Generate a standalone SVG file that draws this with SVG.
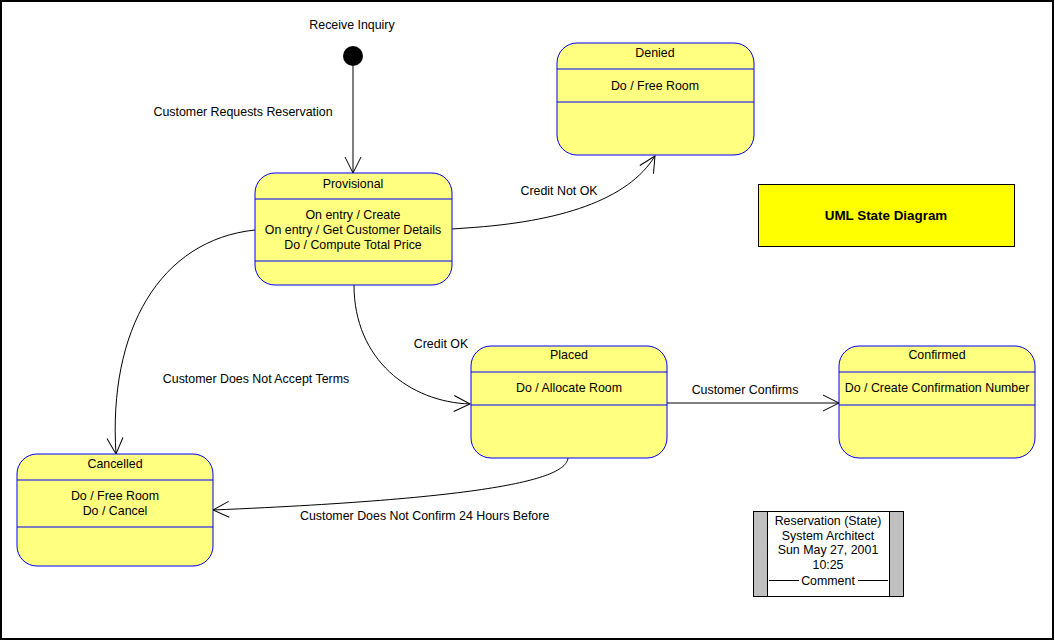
<svg xmlns="http://www.w3.org/2000/svg" width="1054" height="640" viewBox="0 0 1054 640">
<style>
.st{fill:#FFFF80;stroke:#0000FF;stroke-width:1}
.dv{stroke:#0000FF;stroke-width:1}
text{font-family:"Liberation Sans",Arial,sans-serif;font-size:12.4px;fill:#000}
.c{text-anchor:middle}
.ln{fill:none;stroke:#000;stroke-width:1}
</style>
<defs>
<marker id="ah" markerUnits="userSpaceOnUse" markerWidth="18" markerHeight="18" refX="16" refY="8" orient="auto" overflow="visible">
<path d="M0,0 L16,8 L0,16" fill="none" stroke="#000" stroke-width="1"/>
</marker>
</defs>
<rect x="0" y="0" width="1054" height="640" fill="#fff"/>
<rect x="1" y="1" width="1052" height="638" fill="none" stroke="#000" stroke-width="2"/>

<g id="initial">
<circle cx="353" cy="56" r="10" fill="#000"/>
<text class="c" x="352" y="29">Receive Inquiry</text>
</g>

<g id="connectors">
<path class="ln" d="M353,66 L353,173" marker-end="url(#ah)"/>
<text class="c" x="243" y="116">Customer Requests Reservation</text>
<path class="ln" d="M452,229 L466,228 C560,222 628,200 655,156" marker-end="url(#ah)"/>
<text class="c" x="559" y="195">Credit Not OK</text>
<path class="ln" d="M354,285 C354,360 410,402 470,404" marker-end="url(#ah)"/>
<text class="c" x="441" y="348">Credit OK</text>
<path class="ln" d="M255,230 C160,240 108,330 116,454" marker-end="url(#ah)"/>
<text class="c" x="256" y="383">Customer Does Not Accept Terms</text>
<path class="ln" d="M667,403 L839,403" marker-end="url(#ah)"/>
<text class="c" x="745" y="394">Customer Confirms</text>
<path class="ln" d="M568,458 C566,478 500,498 213,510" marker-end="url(#ah)"/>
<text x="300" y="520">Customer Does Not Confirm 24 Hours Before</text>
</g>

<g id="provisional">
<rect class="st" x="255" y="173" width="197" height="112" rx="20" ry="20"/>
<line class="dv" x1="255" y1="199" x2="452" y2="199"/>
<line class="dv" x1="255" y1="261" x2="452" y2="261"/>
<text class="c" x="353" y="188">Provisional</text>
<text class="c" x="353" y="219">On entry / Create</text>
<text class="c" x="353" y="234">On entry / Get Customer Details</text>
<text class="c" x="353" y="249">Do / Compute Total Price</text>
</g>

<g id="denied">
<rect class="st" x="557" y="43" width="197" height="112" rx="20" ry="20"/>
<line class="dv" x1="557" y1="69" x2="754" y2="69"/>
<line class="dv" x1="557" y1="102" x2="754" y2="102"/>
<text class="c" x="655" y="57">Denied</text>
<text class="c" x="655" y="90">Do / Free Room</text>
</g>

<g id="placed">
<rect class="st" x="471" y="346" width="196" height="112" rx="20" ry="20"/>
<line class="dv" x1="471" y1="372" x2="667" y2="372"/>
<line class="dv" x1="471" y1="405" x2="667" y2="405"/>
<text class="c" x="569" y="359">Placed</text>
<text class="c" x="569" y="392">Do / Allocate Room</text>
</g>

<g id="confirmed">
<rect class="st" x="839" y="346" width="196" height="112" rx="20" ry="20"/>
<line class="dv" x1="839" y1="372" x2="1035" y2="372"/>
<line class="dv" x1="839" y1="405" x2="1035" y2="405"/>
<text class="c" x="937" y="359">Confirmed</text>
<text class="c" x="937" y="392">Do / Create Confirmation Number</text>
</g>

<g id="cancelled">
<rect class="st" x="17" y="454" width="196" height="112" rx="20" ry="20"/>
<line class="dv" x1="17" y1="480" x2="213" y2="480"/>
<line class="dv" x1="17" y1="527" x2="213" y2="527"/>
<text class="c" x="115" y="468">Cancelled</text>
<text class="c" x="115" y="500">Do / Free Room</text>
<text class="c" x="115" y="515">Do / Cancel</text>
</g>

<g id="title">
<rect x="758.5" y="184.5" width="256" height="62" fill="#FFFF00" stroke="#000" stroke-width="1"/>
<text class="c" x="886" y="220" font-weight="bold" style="font-size:13.4px">UML State Diagram</text>
</g>

<g id="comment">
<rect x="753.5" y="511.5" width="150" height="85" fill="#fff" stroke="#000" stroke-width="1"/>
<rect x="753.5" y="511.5" width="14" height="85" fill="#C0C0C0" stroke="#000" stroke-width="1"/>
<rect x="889.5" y="511.5" width="14" height="85" fill="#C0C0C0" stroke="#000" stroke-width="1"/>
<text class="c" x="828" y="525">Reservation (State)</text>
<text class="c" x="828" y="540">System Architect</text>
<text class="c" x="828" y="554">Sun May 27, 2001</text>
<text class="c" x="828" y="569">10:25</text>
<line x1="769" y1="580.5" x2="799" y2="580.5" stroke="#000" stroke-width="1"/>
<line x1="858" y1="580.5" x2="888" y2="580.5" stroke="#000" stroke-width="1"/>
<text class="c" x="828" y="585">Comment</text>
</g>
</svg>
